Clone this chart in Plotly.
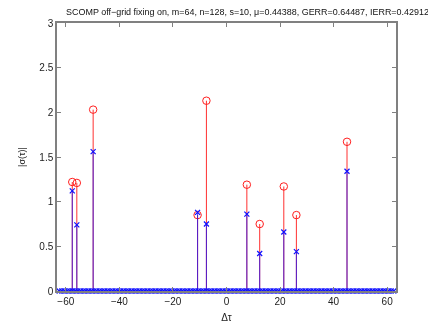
import numpy as np
import plotly.graph_objects as go

# true (off-grid) source positions and magnitudes -> red circles
true_pos = [-57.6, -55.9, -49.8, -10.8, -7.5, 7.6, 12.4, 21.4, 26.1, 45.0]
true_val = [1.22, 1.21, 2.03, 0.85, 2.13, 1.19, 0.75, 1.17, 0.85, 1.67]

# SCOMP estimates after off-grid fixing -> blue crosses
est_pos = [-57.6, -55.9, -49.8, -10.8, -7.5, 7.6, 12.4, 21.4, 26.1, 45.0]
est_val = [1.12, 0.74, 1.56, 0.88, 0.75, 0.86, 0.42, 0.66, 0.44, 1.34]

# remaining grid points, all estimated as zero
grid_pos = np.arange(-63.5, 64, 1.0)
grid_val = np.zeros(len(grid_pos))

title = ("SCOMP off\u2212grid fixing on, m=64, n=128, s=10, \u03bc=0.44388, "
         "GERR=0.64487, IERR=0.42912")


def stem_xy(xs, ys):
    sx, sy = [], []
    for x, y in zip(xs, ys):
        sx += [x, x, None]
        sy += [0, y, None]
    return sx, sy


fig = go.Figure()

rx, ry = stem_xy(true_pos, true_val)
fig.add_trace(go.Scatter(x=rx, y=ry, mode='lines',
                         line=dict(color='#ff3030', width=1), hoverinfo='skip'))
fig.add_trace(go.Scatter(x=true_pos, y=true_val, mode='markers',
                         marker=dict(symbol='circle-open', size=7.5, color='#ff2020',
                                     line=dict(width=1))))

bx, by = stem_xy(est_pos, est_val)
fig.add_trace(go.Scatter(x=bx, y=by, mode='lines', opacity=0.75,
                         line=dict(color='#1010ff', width=1), hoverinfo='skip'))

fig.add_trace(go.Scatter(x=list(grid_pos) + est_pos, y=list(grid_val) + est_val,
                         mode='markers', cliponaxis=False,
                         marker=dict(symbol='x-thin-open', size=5, color='#1010ff',
                                     line=dict(width=1.2, color='#1010ff'))))

axis_style = dict(showline=True, linecolor='#808080', linewidth=1.5, mirror='allticks',
                  ticks='inside', ticklen=4, tickcolor='#808080', showgrid=False,
                  zeroline=False, automargin=False, tickfont=dict(size=10, color='#222'))

# page body has an 8px margin, so the figure is a bit smaller and shifted
fig.update_layout(
    width=428, height=319,
    margin=dict(l=49, r=40, t=15, b=36),
    paper_bgcolor='white', plot_bgcolor='white',
    showlegend=False,
    font=dict(family='Liberation Sans, Arial, sans-serif', size=10, color='#222'),
    title=dict(text=title, x=0.5596, xanchor='center', y=0.998, yanchor='top',
               font=dict(size=8.95, color='#111')),
    xaxis=dict(range=[-63.3, 63.3], tickvals=[-60, -40, -20, 0, 20, 40, 60],
               ticktext=['\u221260', '\u221240', '\u221220', '0', '20', '40', '60'],
               title=dict(text='\u0394\u03c4', standoff=8, font=dict(size=10)),
               **axis_style),
    yaxis=dict(range=[0, 3], tickvals=[0, 0.5, 1, 1.5, 2, 2.5, 3],
               title=dict(text='|\u03c3(\u03c4)|', standoff=12, font=dict(size=9)),
               **axis_style),
)

fig.write_html("out.html")
